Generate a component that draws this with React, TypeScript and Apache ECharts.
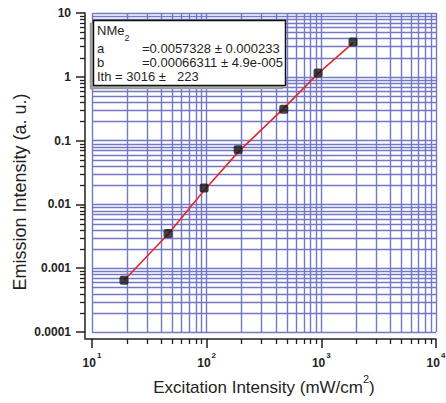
import React, { useEffect, useRef } from "react";
import * as echarts from "echarts";

// ---- data ----
const pointX = [19, 46, 95, 188, 470, 935, 1890];
const pointY = [0.00065, 0.0035, 0.018, 0.072, 0.31, 1.15, 3.5];
const fitX = [19, 46, 95, 188, 470, 935, 1890];
const fitY = [0.00064, 0.0034, 0.0165, 0.066, 0.32, 1.12, 3.4];

// ---- axes ----
const X_MIN = 10;
const X_MAX = 10000;
const Y_MIN = 0.0001;
const Y_MAX = 10;
const xDecades = [10, 100, 1000];
const yDecades = [0.0001, 0.001, 0.01, 0.1, 1];
const minorMult = [2, 3, 4, 5, 6, 7, 8, 9];
const xTickExponents = ["1", "2", "3", "4"];
const yTickLabels = ["0.0001", "0.001", "0.01", "0.1", "1", "10"];

// ---- legend texts ----
const fitName = "NMe";
const fitNameSub = "2";
const fitRows = [
  ["a", "=0.0057328 \u00b1 0.000233"],
  ["b", "=0.00066311 \u00b1 4.9e-005"],
];
const ithText = "Ith = 3016 \u00b1";
const ithErr = "223";

const xMinor = xDecades.flatMap((d) => minorMult.map((m) => m * d));
const yMinor = yDecades.flatMap((d) => minorMult.map((m) => m * d));

const FONT = "'Liberation Sans', Arial, Helvetica, sans-serif";
const GRID = "#7378c4";
const INK = "#231f20";
const OFF = 7;

function crisp(v: number) {
  return Math.round(v) + 0.5;
}

export default function App() {
  const ref = useRef<HTMLDivElement>(null);
  useEffect(() => {
    document.body.style.margin = "0";
    const chart = echarts.init(ref.current!, null, { renderer: "svg" });
    const option: any = {
      animation: false,
      backgroundColor: "#fff",
      grid: {
        left: 92,
        right: 10,
        top: 13,
        bottom: 71,
        containLabel: false,
        outerBoundsMode: "none",
      },
      xAxis: {
        type: "log",
        logBase: 10,
        min: X_MIN,
        max: X_MAX,
        offset: OFF,
        axisLine: { show: true, onZero: false, lineStyle: { color: INK, width: 1.5 } },
        axisTick: { show: true, length: 9, lineStyle: { color: INK, width: 1.5 } },
        minorTick: { show: false },
        splitLine: { show: true, lineStyle: { color: GRID, width: 1.4 } },
        axisLabel: {
          margin: 12,
          showMinLabel: true,
          showMaxLabel: true,
          formatter: (v: number) => {
            const e = Math.round(Math.log10(v));
            return "{b|10}{s|" + xTickExponents[e - 1] + "}";
          },
          rich: {
            b: { fontFamily: FONT, fontSize: 12, fontWeight: "bold", color: INK, lineHeight: 18, verticalAlign: "bottom" },
            s: { fontFamily: FONT, fontSize: 8, fontWeight: "bold", color: INK, lineHeight: 18, verticalAlign: "top", padding: [0, 0, 0, 1] },
          },
        },
        name: "{t|Excitation Intensity (mW/cm}{s|2}{t|)}",
        nameLocation: "middle",
        nameGap: 34,
        nameTextStyle: {
          rich: {
            t: { fontFamily: FONT, fontSize: 17, color: INK, lineHeight: 22, verticalAlign: "bottom" },
            s: { fontFamily: FONT, fontSize: 11, color: INK, lineHeight: 22, verticalAlign: "top" },
          },
        },
      },
      yAxis: {
        type: "log",
        logBase: 10,
        min: Y_MIN,
        max: Y_MAX,
        offset: OFF,
        axisLine: { show: true, onZero: false, lineStyle: { color: INK, width: 1.5 } },
        axisTick: { show: true, length: 9, lineStyle: { color: INK, width: 1.5 } },
        minorTick: { show: false },
        splitLine: { show: true, lineStyle: { color: GRID, width: 1.4 } },
        axisLabel: {
          margin: 14,
          showMinLabel: true,
          showMaxLabel: true,
          fontFamily: FONT,
          fontSize: 12,
          fontWeight: "bold",
          color: INK,
          formatter: (v: number) => {
            const e = Math.round(Math.log10(v));
            return yTickLabels[e + 4];
          },
        },
      },
      graphic: [
        {
          type: "text",
          x: 20,
          y: 192,
          rotation: Math.PI / 2,
          style: {
            text: "Emission Intensity (a. u.)",
            font: "18px " + FONT,
            fill: INK,
            align: "center",
            verticalAlign: "middle",
          },
        },
        {
          type: "rect",
          z: 10,
          shape: { x: 90.5, y: 23.5, width: 192, height: 65 },
          style: { fill: "#aaa", stroke: "#999", lineWidth: 1.5 },
        },
        {
          type: "rect",
          z: 11,
          shape: { x: 93.5, y: 20.5, width: 192, height: 65 },
          style: { fill: "#fff", stroke: "#111", lineWidth: 1.5 },
        },
        {
          type: "text",
          z: 12,
          x: 97,
          y: 33,
          style: {
            text: "{n|" + fitName + "}{s|" + fitNameSub + "}",
            verticalAlign: "middle",
            rich: {
              n: { fontFamily: FONT, fontSize: 13, fill: INK, color: INK, lineHeight: 18, verticalAlign: "top" },
              s: { fontFamily: FONT, fontSize: 9, fill: INK, color: INK, lineHeight: 18, verticalAlign: "bottom" },
            },
          },
        },
        ...fitRows.flatMap((row, i) => [
          {
            type: "text",
            z: 12,
            x: 97,
            y: 48 + i * 14,
            style: { text: row[0], font: "13px " + FONT, fill: INK, verticalAlign: "middle" },
          },
          {
            type: "text",
            z: 12,
            x: 142,
            y: 48 + i * 14,
            style: { text: row[1], font: "13px " + FONT, fill: INK, verticalAlign: "middle" },
          },
        ]),
        {
          type: "text",
          z: 12,
          x: 97,
          y: 76,
          style: { text: ithText, font: "13px " + FONT, fill: INK, verticalAlign: "middle" },
        },
        {
          type: "text",
          z: 12,
          x: 177,
          y: 76,
          style: { text: ithErr, font: "13px " + FONT, fill: INK, verticalAlign: "middle" },
        },
      ],
      series: [
        {
          type: "custom",
          coordinateSystem: "cartesian2d",
          clip: false,
          silent: true,
          z: 1,
          data: xMinor.map((v) => [v, Y_MIN]),
          renderItem: (params: any, api: any) => {
            const v = api.value(0);
            const top = api.coord([v, Y_MAX]);
            const bot = api.coord([v, Y_MIN]);
            const x = crisp(top[0]);
            return {
              type: "group",
              children: [
                { type: "line", shape: { x1: x, y1: top[1], x2: x, y2: bot[1] }, style: { stroke: GRID, lineWidth: 1.4 } },
                { type: "line", shape: { x1: x, y1: bot[1] + OFF, x2: x, y2: bot[1] + OFF + 5 }, style: { stroke: INK, lineWidth: 1.3 } },
              ],
            };
          },
        },
        {
          type: "custom",
          coordinateSystem: "cartesian2d",
          clip: false,
          silent: true,
          z: 1,
          data: yMinor.map((v) => [X_MIN, v]),
          renderItem: (params: any, api: any) => {
            const v = api.value(1);
            const l = api.coord([X_MIN, v]);
            const r = api.coord([X_MAX, v]);
            const y = crisp(l[1]);
            return {
              type: "group",
              children: [
                { type: "line", shape: { x1: l[0], y1: y, x2: r[0], y2: y }, style: { stroke: GRID, lineWidth: 1.4 } },
                { type: "line", shape: { x1: l[0] - OFF - 5, y1: y, x2: l[0] - OFF, y2: y }, style: { stroke: INK, lineWidth: 1.3 } },
              ],
            };
          },
        },
        {
          type: "custom",
          coordinateSystem: "cartesian2d",
          clip: false,
          silent: true,
          z: 1,
          data: [[X_MIN, Y_MIN]],
          renderItem: (params: any, api: any) => {
            const c = api.coord([X_MIN, Y_MIN]);
            return {
              type: "polyline",
              shape: { points: [[c[0] - OFF, c[1]], [c[0] - OFF, c[1] + OFF], [c[0], c[1] + OFF]] },
              style: { stroke: INK, lineWidth: 1.5, fill: "none" },
            };
          },
        },
        {
          type: "line",
          z: 3,
          symbol: "none",
          silent: true,
          data: fitX.map((x, i) => [x, fitY[i]]),
          lineStyle: { color: "#e8262a", width: 1.6 },
        },
        {
          type: "scatter",
          z: 4,
          symbol: "roundRect",
          symbolSize: 9,
          silent: true,
          data: pointX.map((x, i) => [x, pointY[i]]),
          itemStyle: { color: "#151515" },
        },
      ],
    };
    chart.setOption(option);
    return () => chart.dispose();
  }, []);
  return <div ref={ref} style={{ width: 446, height: 403 }} />;
}
